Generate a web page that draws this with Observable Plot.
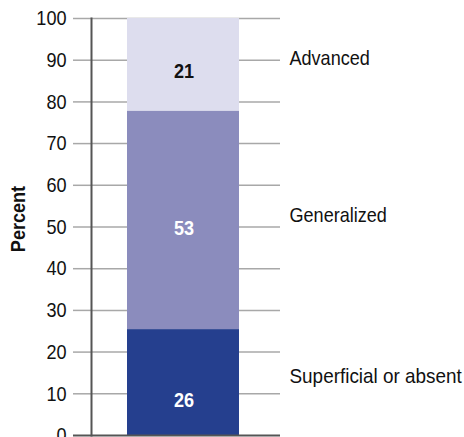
<!DOCTYPE html>
<html>
<head>
<meta charset="utf-8">
<script src="https://cdn.jsdelivr.net/npm/d3@7"></script>
<script src="https://cdn.jsdelivr.net/npm/@observablehq/plot@0.6"></script>
<style>
  html, body { margin: 0; padding: 0; background: #fff; }
  #chart svg { display: block; }
</style>
</head>
<body>
<div id="chart"></div>
<script>
// Data (bottom to top)
const categories = ["Superficial or absent", "Generalized", "Advanced"];
const values = [25.4, 52.4, 22.2];       // segment heights as drawn in the picture
const valueLabels = ["26", "53", "21"];  // printed labels
const yTicks = [0, 10, 20, 30, 40, 50, 60, 70, 80, 90, 100];
const yLabel = "Percent";

const colors = ["#253f8e", "#8b8cbd", "#ddddee"];
const valueColors = ["#ffffff", "#ffffff", "#111111"];

// stacked table
let acc = 0;
const rows = categories.map((c, i) => {
  const r = {cat: c, value: values[i], label: valueLabels[i], y1: acc, y2: acc + values[i], mid: acc + values[i] / 2};
  acc += values[i];
  return r;
});

// fine label nudges (px)
const valueDy = {"Superficial or absent": 18, "Generalized": 8, "Advanced": 6.5};
const labelDy = {"Superficial or absent": -6, "Generalized": -5, "Advanced": -7};

const font = "'Liberation Sans', Arial, sans-serif";

const chart = Plot.plot({
  width: 464,
  height: 437,
  marginTop: 18,
  marginBottom: 2,
  marginLeft: 91,
  marginRight: 184,
  style: {fontFamily: font, fontSize: "21px", color: "#111", background: "#fff", overflow: "visible"},
  x: {domain: ["bar"], axis: null},
  y: {domain: [0, 100], ticks: yTicks, label: null},
  color: {domain: categories, range: colors},
  marks: [
    Plot.ruleY(yTicks.filter(d => d > 0), {stroke: "#a8a8a8", strokeWidth: 1.5, strokeOpacity: 1}),
    Plot.rectY(rows, {x: () => "bar", y1: "y1", y2: "y2", fill: "cat", insetLeft: 36, insetRight: 41}),
    Plot.axisY({ticks: yTicks.filter(d => d > 0), tickSize: 18, tickPadding: 7, stroke: "#a8a8a8", strokeWidth: 1.5, fontSize: 21, fill: "#111", label: null}),
    Plot.axisY({ticks: [0], tickSize: 18, tickPadding: 7, stroke: "#555", strokeWidth: 2, fontSize: 21, fill: "#111", label: null}),
    Plot.ruleY([0], {stroke: "#555", strokeWidth: 2}),
    Plot.frame({anchor: "left", stroke: "#555", strokeWidth: 2}),
    ...rows.map((r, i) => Plot.text([r], {
      x: () => "bar", y: "mid", text: "label",
      dx: -2.5, dy: valueDy[r.cat], fill: valueColors[i], fontWeight: "bold", fontSize: 21
    })),
    ...rows.map(r => Plot.text([r], {
      frameAnchor: "right", y: "mid", text: "cat", textAnchor: "start",
      dx: 9, dy: labelDy[r.cat], fill: "#111", fontSize: 21
    })),
    Plot.text([yLabel], {frameAnchor: "left", textAnchor: "middle", lineAnchor: "middle", dx: -73, dy: -8, rotate: -90, fontWeight: "bold", fontSize: 21, fill: "#111"})
  ]
});
document.getElementById("chart").appendChild(chart);

// emulate a condensed typeface by narrowing glyphs horizontally
chart.querySelectorAll("text").forEach(t => {
  const len = t.getComputedTextLength();
  if (len > 0) {
    const k = t.textContent.length > 15 ? 0.9 : 0.86;
    t.setAttribute("textLength", (len * k).toFixed(2));
    t.setAttribute("lengthAdjust", "spacingAndGlyphs");
  }
});
</script>
</body>
</html>
